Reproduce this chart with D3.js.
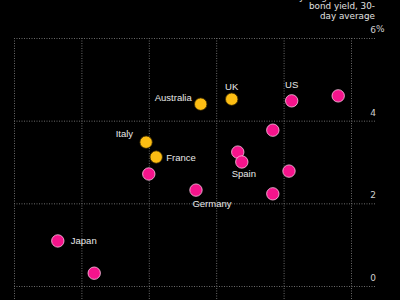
<!DOCTYPE html>
<html>
<head>
<meta charset="utf-8">
<script src="https://cdn.jsdelivr.net/npm/d3@7"></script>
<style>
  html, body { margin: 0; padding: 0; background: #000; }
  svg { display: block; }
</style>
</head>
<body>
<script>
// ---- Data ----
const countries = ["Australia", "UK", "US", "", "", "Italy", "France", "", "Spain", "", "", "Germany", "", "Japan", ""];
const groups    = ["y", "y", "p", "p", "p", "y", "y", "p", "p", "p", "p", "p", "p", "p", "p"];
const xValues   = [2.77, 3.23, 4.12, 4.81, 3.84, 1.96, 2.11, 3.32, 3.38, 4.08, 2.00, 2.70, 3.84, 0.65, 1.19];
const yValues   = [4.40, 4.52, 4.48, 4.60, 3.77, 3.48, 3.12, 3.24, 3.00, 2.78, 2.71, 2.32, 2.23, 1.09, 0.31];
const yTicks    = [0, 2, 4, 6];
const xTicks    = [0, 1, 2, 3, 4, 5];
const titleLines = ["10-year government", "bond yield, 30-", "day average"];

// ---- Layout / style ----
const W = 400, H = 300;
const colors = { y: "#fcbd13", p: "#f5148c" };
const labelPos = {
  "Australia": { dx: -9,  dy: -3,  anchor: "end" },
  "UK":        { dx: 0,   dy: -9,  anchor: "middle" },
  "US":        { dx: 0,   dy: -13, anchor: "middle" },
  "Italy":     { dx: -13, dy: -5,  anchor: "end" },
  "France":    { dx: 10,  dy: 4,   anchor: "start" },
  "Spain":     { dx: 2,   dy: 15,  anchor: "middle" },
  "Germany":   { dx: 16,  dy: 17,  anchor: "middle" },
  "Japan":     { dx: 13,  dy: 3,   anchor: "start" }
};

const x = d3.scaleLinear().domain([0, 5]).range([14, 351]);
const y = d3.scaleLinear().domain([0, 6]).range([286, 38]);

const svg = d3.select("body").append("svg").attr("width", W).attr("height", H);
svg.append("rect").attr("width", W).attr("height", H).attr("fill", "#000");

// Horizontal gridlines
svg.append("g").selectAll("line").data(yTicks).join("line")
  .attr("x1", 14).attr("x2", 375)
  .attr("y1", d => y(d) + 0.5).attr("y2", d => y(d) + 0.5)
  .attr("stroke", "#6a6a6a").attr("stroke-width", 1).attr("stroke-dasharray", "1,1.5");

// Vertical gridlines
svg.append("g").selectAll("line").data(xTicks).join("line")
  .attr("x1", d => x(d) + 0.5).attr("x2", d => x(d) + 0.5)
  .attr("y1", y(6)).attr("y2", H)
  .attr("stroke", "#6a6a6a").attr("stroke-width", 1).attr("stroke-dasharray", "1,1.5");

// Y tick labels
const tl = svg.append("g").attr("font-family", "DejaVu Sans").attr("font-size", "9px").attr("fill", "#cfcfcf");
tl.selectAll("text.num").data(yTicks).join("text").attr("class", "num")
  .attr("x", 376).attr("y", d => y(d) - 5).attr("text-anchor", "end").text(d => d);
tl.append("text").attr("x", 376).attr("y", y(6) - 6).attr("text-anchor", "start").text("%");

// Title (top right, partially cut off)
svg.append("g").attr("font-family", "DejaVu Sans").attr("font-size", "8.8px").attr("fill", "#e0e0e0")
  .selectAll("text").data(titleLines).join("text")
  .attr("x", 375).attr("y", (d, i) => -0.5 + i * 9.5).attr("text-anchor", "end").text(d => d);

// Points
const idx = d3.range(countries.length);
svg.append("g").selectAll("circle").data(idx).join("circle")
  .attr("cx", i => x(xValues[i])).attr("cy", i => y(yValues[i])).attr("r", 6.2)
  .attr("fill", i => colors[groups[i]])
  .attr("stroke", i => groups[i] === "p" ? "#ffc6e4" : "#3a2a00")
  .attr("stroke-width", 0.8);

// Labels
svg.append("g").attr("font-family", "Liberation Sans, Arial, sans-serif").attr("font-size", "9.5px").attr("fill", "#e8e8e8")
  .selectAll("text").data(idx.filter(i => countries[i])).join("text")
  .attr("x", i => x(xValues[i]) + labelPos[countries[i]].dx)
  .attr("y", i => y(yValues[i]) + labelPos[countries[i]].dy)
  .attr("text-anchor", i => labelPos[countries[i]].anchor)
  .text(i => countries[i]);
</script>
</body>
</html>
